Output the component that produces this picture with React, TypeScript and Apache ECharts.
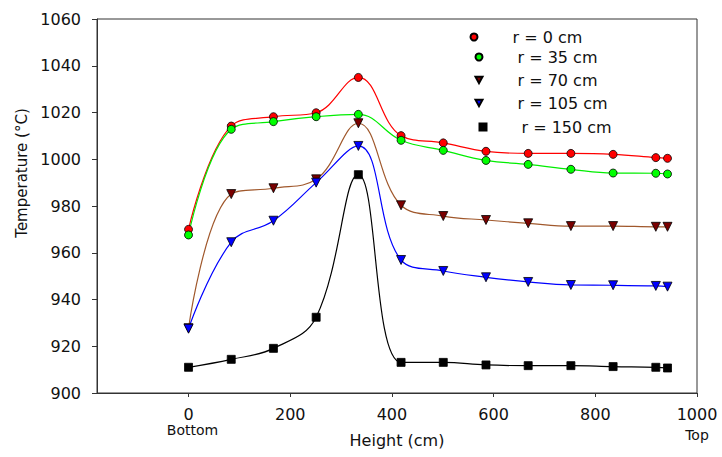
import React, { useEffect, useRef } from "react";
import * as echarts from "echarts";

const heights = [0, 84, 167, 251, 334, 418, 501, 585, 668, 752, 835, 919, 942];
const r0 = [970.0, 1014.2, 1018.2, 1019.9, 1035.0, 1010.1, 1007.0, 1003.4, 1002.5, 1002.5, 1002.1, 1000.7, 1000.4];
const r35 = [967.6, 1012.8, 1016.1, 1018.2, 1019.2, 1008.1, 1003.8, 999.5, 997.8, 995.7, 994.1, 994.0, 993.7];
const r70 = [927.7, 985.1, 987.6, 991.4, 1015.4, 980.3, 975.7, 974.0, 972.6, 971.4, 971.4, 971.1, 971.1];
const r105 = [927.5, 964.5, 973.7, 990.0, 1005.7, 956.9, 952.2, 949.5, 947.5, 946.2, 946.1, 945.8, 945.5];
const r150 = [911.0, 914.4, 919.1, 932.4, 993.4, 913.1, 913.1, 912.0, 911.7, 911.7, 911.3, 911.0, 910.7];

const seriesNames = ["r = 0 cm", "r = 35 cm", "r = 70 cm", "r = 105 cm", "r = 150 cm"];
const xTicks = [0, 200, 400, 600, 800, 1000];
const endTicks = [0, 1000];
const endLabels = ["Bottom", "Top"];
const FONT = "DejaVu Sans";
const TRI = "path://M0,0 L10,0 L5,9 Z";

export default function App() {
  const ref = useRef<HTMLDivElement>(null);
  useEffect(() => {
    document.body.style.margin = "0";
    const chart = echarts.init(ref.current!, null, { renderer: "svg" });
    const pairs = (ys: number[]) => heights.map((h, i) => [h, ys[i]]);
    const styles = [
      { data: r0, line: "#ff0000", fill: "#ff0000", symbol: "circle", rot: 0, size: 8, icon: "circle" },
      { data: r35, line: "#00ee00", fill: "#00ff00", symbol: "circle", rot: 0, size: 8, icon: "circle" },
      { data: r70, line: "#a0582c", fill: "#7a0000", symbol: "triangle", rot: 180, size: 9, icon: TRI },
      { data: r105, line: "#0000ff", fill: "#0000ff", symbol: "triangle", rot: 180, size: 9, icon: TRI },
      { data: r150, line: "#000000", fill: "#000000", symbol: "rect", rot: 0, size: 8, icon: "rect" },
    ];
    const legendPos = [
      { left: 469.5, top: 28 },
      { left: 474.5, top: 48 },
      { left: 474.5, top: 71 },
      { left: 474.5, top: 94 },
      { left: 478.5, top: 118 },
    ];
    const option: any = {
      animation: false,
      textStyle: { fontFamily: FONT },
      grid: {
        left: 97, right: 25, top: 19, bottom: 64,
        show: true, borderColor: "#333", borderWidth: 1,
      },
      legend: seriesNames.map((n, i) => ({
        left: legendPos[i].left,
        top: legendPos[i].top,
        padding: 0,
        itemWidth: 7,
        itemHeight: 7,
        selectedMode: false,
        data: [{ name: n, icon: styles[i].icon }],
        textStyle: { fontFamily: FONT, fontSize: 16, color: "#111", lineHeight: 18, padding: [0, 0, 0, 30] },
      })),
      xAxis: [
        {
          type: "value",
          min: -180,
          max: 1000,
          name: "Height (cm)",
          nameLocation: "middle",
          nameGap: 39,
          nameTextStyle: { fontFamily: FONT, fontSize: 16, color: "#111" },
          axisLine: { show: true, onZero: false, lineStyle: { color: "#333" } },
          axisTick: { show: true, length: 4, customValues: xTicks, lineStyle: { color: "#333" } },
          splitLine: { show: false },
          axisLabel: {
            customValues: xTicks,
            margin: 13,
            color: "#111",
            fontFamily: FONT,
            fontSize: 16,
            formatter: (v: number) => String(v),
          },
        },
        {
          type: "value",
          position: "bottom",
          min: -180,
          max: 1000,
          axisLine: { show: false, onZero: false },
          axisTick: { show: false },
          splitLine: { show: false },
          axisLabel: {
            customValues: endTicks,
            margin: 30,
            color: "#111",
            fontFamily: FONT,
            formatter: (v: number) =>
              v === 0 ? "{b|" + endLabels[0] + "}" : "{t|" + endLabels[1] + "}",
            rich: {
              b: { fontFamily: FONT, fontSize: 14, color: "#111", padding: [0, 0, 0, 8] },
              t: { fontFamily: FONT, fontSize: 14, color: "#111", padding: [5, 0, 0, 0] },
            },
          },
        },
      ],
      yAxis: {
        type: "value",
        min: 900,
        max: 1060,
        interval: 20,
        axisLine: { show: true, onZero: false, lineStyle: { color: "#333" } },
        axisTick: { show: true, length: 5, lineStyle: { color: "#333" } },
        splitLine: { show: false },
        axisLabel: {
          margin: 16,
          fontFamily: FONT,
          fontSize: 16,
          color: "#111",
          formatter: (v: number) => String(v),
        },
      },
      graphic: [
        {
          type: "text",
          x: 22,
          y: 173,
          rotation: Math.PI / 2,
          style: {
            text: "Temperature (°C)",
            fontFamily: FONT,
            fontSize: 15,
            fill: "#111",
            align: "center",
            verticalAlign: "middle",
          },
        },
      ],
      series: styles.map((s, i) => ({
        name: seriesNames[i],
        type: "line",
        xAxisIndex: 0,
        data: pairs(s.data),
        smooth: 0.4,
        symbol: s.symbol,
        symbolSize: s.size,
        symbolRotate: s.rot,
        showAllSymbol: true,
        lineStyle: { color: s.line, width: 1.2 },
        itemStyle: { color: s.fill, borderColor: "#000", borderWidth: 0.8 },
        emphasis: { disabled: true },
      })),
    };
    chart.setOption(option);
    return () => chart.dispose();
  }, []);
  return <div ref={ref} style={{ width: 722, height: 457 }} />;
}
